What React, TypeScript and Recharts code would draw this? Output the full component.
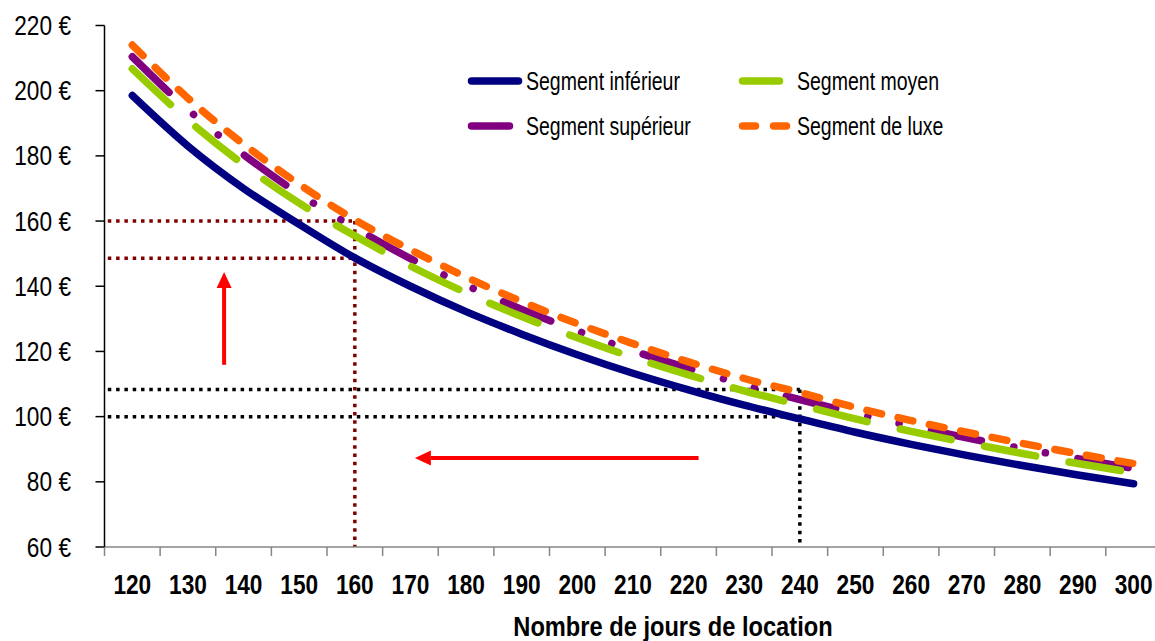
import React from 'react';
import { LineChart, Line, XAxis, YAxis, ReferenceLine, Legend } from 'recharts';

// jours de location (axe X)
const days = [120, 130, 140, 150, 160, 170, 180, 190, 200, 210, 220, 230, 240, 250, 260, 270, 280, 290, 300];

// prix par jour
const segInferieur = [198.5, 183, 170, 159, 148.7, 140, 132.2, 125.3, 119, 113.3, 108.2, 103.5, 99.3, 95.2, 91.5, 88.1, 85, 82.1, 79.4];
const segMoyen = [206.7, 191, 177.3, 165.5, 155.5, 146.2, 138, 130.7, 124.2, 118.2, 112.8, 107.9, 103.6, 99.3, 95.5, 92, 88.7, 85.6, 82.8];
const segSuperieur = [210.4, 194.2, 180.4, 168.3, 157.9, 148.5, 140.3, 132.9, 126.3, 120.2, 114.8, 109.8, 105.2, 101, 97.1, 93.5, 90.2, 87.1, 84.1];
const segLuxe = [214, 197.7, 183.6, 171.3, 160.4, 151.2, 142.8, 135.3, 128.5, 122.4, 116.8, 111.7, 107.4, 102.8, 98.8, 95.2, 91.8, 88.6, 85.6];

const yTicks = [60, 80, 100, 120, 140, 160, 180, 200, 220];

// repères
const refLow = 148.6;
const refHigh = 160;
const refDays = 160;
const blackLow = 100;
const blackHigh = 108.3;
const blackDays = 240;

const series = [
  { key: 'inferieur', name: 'Segment inférieur', color: '#000080', dash: undefined as string | undefined },
  { key: 'superieur', name: 'Segment supérieur', color: '#800080', dash: '51 33 0.1 32 0.1 33' },
  { key: 'moyen', name: 'Segment moyen', color: '#99CC00', dash: '52 34' },
  { key: 'luxe', name: 'Segment de luxe', color: '#FF6600', dash: '15 17' },
];

const data = days.map((d, i) => ({
  days: d,
  inferieur: segInferieur[i],
  moyen: segMoyen[i],
  superieur: segSuperieur[i],
  luxe: segLuxe[i],
}));

// pas de police étroite installée : on compresse horizontalement
const FONT = "'Liberation Sans', Arial, sans-serif";

const CHART_W = 1170;
const MARGIN = { top: 25.5, right: 8.6, bottom: 0, left: 0 };
const Y_W = 104.5;
const X_MIN = 115;
const X_MAX = 305;
const HALF_BAND = ((CHART_W - MARGIN.right - Y_W) / (X_MAX - X_MIN)) * 5;

const XTick = (props: any) => {
  const { x, y, payload } = props;
  return (
    <g>
      <line x1={x - HALF_BAND} x2={x - HALF_BAND} y1={y} y2={y + 9} stroke="#868686" strokeWidth={1.5} />
      <text
        transform={`translate(${x},${y + 47}) scale(0.81,1)`}
        textAnchor="middle"
        fontFamily={FONT}
        fontSize={28}
        fontWeight="bold"
        fill="#000"
      >
        {payload.value}
      </text>
    </g>
  );
};

const YTick = (props: any) => {
  const { x, y, payload } = props;
  return (
    <text
      transform={`translate(${x},${y + 9.5}) scale(0.84,1)`}
      textAnchor="end"
      fontFamily={FONT}
      fontSize={27}
      fill="#000"
    >
      {`${payload.value} €`}
    </text>
  );
};

const Dotted = (color: string, offset: number) => (props: any) => (
  <line
    x1={props.x1}
    y1={props.y1}
    x2={props.x2}
    y2={props.y2}
    stroke={color}
    strokeWidth={3.5}
    strokeDasharray="3.5 4.8"
    strokeDashoffset={offset}
  />
);

const Arrow = (props: any) => {
  const { x1, y1, x2, y2 } = props;
  const dx = x2 - x1;
  const dy = y2 - y1;
  const len = Math.sqrt(dx * dx + dy * dy);
  const ux = dx / len;
  const uy = dy / len;
  const head = 16;
  const w = 7.5;
  const bx = x2 - ux * head;
  const by = y2 - uy * head;
  return (
    <g>
      <line x1={x1} y1={y1} x2={bx} y2={by} stroke="#FF0000" strokeWidth={4} />
      <polygon
        points={`${x2},${y2} ${bx - uy * w},${by + ux * w} ${bx + uy * w},${by - ux * w}`}
        fill="#FF0000"
      />
    </g>
  );
};

const legendPos: Record<string, { left: number; top: number; len: number }> = {
  inferieur: { left: 464, top: 66, len: 47 },
  moyen: { left: 735, top: 66, len: 37 },
  superieur: { left: 464, top: 111, len: 38 },
  luxe: { left: 735, top: 111, len: 50 },
};

const LegendBox = () => (
  <div style={{ position: 'relative', width: 1155, height: 0 }}>
    {series.map((s) => {
      const p = legendPos[s.key];
      return (
        <div
          key={s.key}
          style={{ position: 'absolute', left: p.left, top: p.top, height: 30, display: 'flex', alignItems: 'center', whiteSpace: 'nowrap' }}
        >
          <svg width={62} height={30} style={{ display: 'block', flex: 'none' }}>
            <line
              x1={7.5}
              x2={7.5 + p.len}
              y1={15}
              y2={15}
              stroke={s.color}
              strokeWidth={7.5}
              strokeLinecap="round"
              strokeDasharray={s.key === 'luxe' ? '13 18' : undefined}
            />
          </svg>
          <span
            style={{
              display: 'inline-block',
              fontFamily: FONT,
              fontSize: 26,
              lineHeight: '30px',
              color: '#000',
              transform: 'scaleX(0.75)',
              transformOrigin: 'left center',
            }}
          >
            {s.name}
          </span>
        </div>
      );
    })}
  </div>
);

export default function App() {
  return (
    <div style={{ position: 'absolute', left: 0, top: 0, width: 1155, height: 641, overflow: 'hidden', background: '#fff' }}>
      <LineChart width={CHART_W} height={641} data={data} margin={MARGIN}>
        <XAxis
          dataKey="days"
          type="number"
          domain={[X_MIN, X_MAX]}
          ticks={days}
          interval={0}
          height={94}
          tickSize={0}
          tickMargin={0}
          tickLine={false}
          axisLine={{ stroke: '#868686', strokeWidth: 1.5 }}
          tick={<XTick />}
          label={{
            value: 'Nombre de jours de location',
            content: (p: any) => (
              <text
                transform={`translate(${p.viewBox.x + p.viewBox.width / 2 + 40},${p.viewBox.y + 89}) scale(0.845,1)`}
                textAnchor="middle"
                fontFamily={FONT}
                fontSize={28}
                fontWeight="bold"
                fill="#000"
              >
                Nombre de jours de location
              </text>
            ),
          }}
        />
        <YAxis
          type="number"
          domain={[60, 220]}
          ticks={yTicks}
          interval={0}
          width={Y_W}
          tickSize={9}
          tickMargin={24.5}
          axisLine={{ stroke: '#000', strokeWidth: 1.5 }}
          tickLine={{ stroke: '#000', strokeWidth: 1.5 }}
          tick={<YTick />}
        />
        <Legend layout="vertical" align="center" verticalAlign="middle" wrapperStyle={{ left: 0, top: 0 }} content={() => <LegendBox />} />

        <ReferenceLine segment={[{ x: X_MIN, y: refHigh }, { x: refDays, y: refHigh }]} shape={Dotted('#800000', 5)} />
        <ReferenceLine segment={[{ x: X_MIN, y: refLow }, { x: refDays, y: refLow }]} shape={Dotted('#800000', 5)} />
        <ReferenceLine segment={[{ x: refDays, y: refHigh }, { x: refDays, y: 60 }]} shape={Dotted('#800000', 0)} />
        <ReferenceLine segment={[{ x: X_MIN, y: blackHigh }, { x: blackDays, y: blackHigh }]} shape={Dotted('#000', 5)} />
        <ReferenceLine segment={[{ x: X_MIN, y: blackLow }, { x: blackDays, y: blackLow }]} shape={Dotted('#000', 5)} />
        <ReferenceLine segment={[{ x: blackDays, y: blackHigh }, { x: blackDays, y: 60 }]} shape={Dotted('#000', 0)} />

        <ReferenceLine segment={[{ x: 136.5, y: 115.9 }, { x: 136.5, y: 144.4 }]} shape={<Arrow />} />
        <ReferenceLine segment={[{ x: 221.8, y: 87.3 }, { x: 170.8, y: 87.3 }]} shape={<Arrow />} />

        {series.map((s) => (
          <Line
            key={s.key}
            dataKey={s.key}
            name={s.name}
            type="monotone"
            stroke={s.color}
            strokeWidth={7.5}
            strokeLinecap="round"
            strokeDasharray={s.dash}
            dot={false}
            activeDot={false}
            isAnimationActive={false}
          />
        ))}
      </LineChart>
    </div>
  );
}
